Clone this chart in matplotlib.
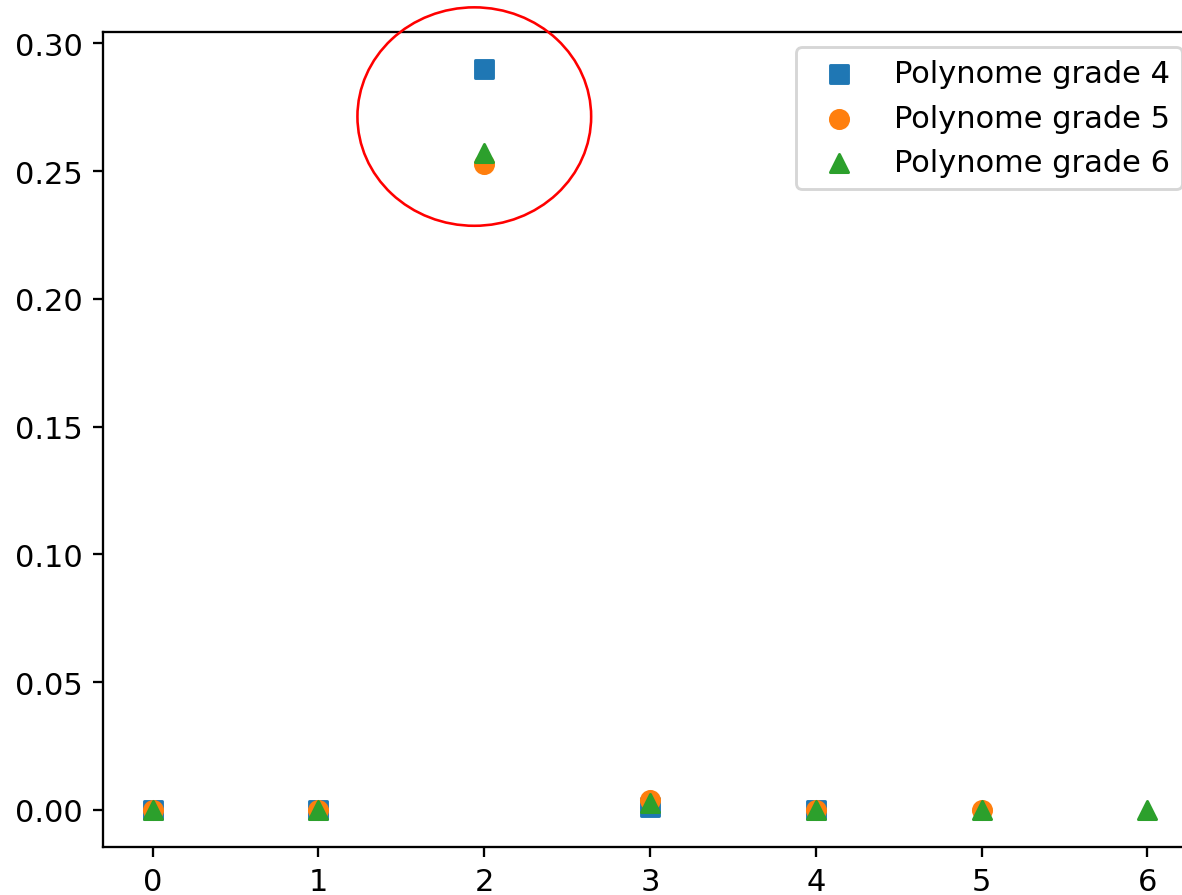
import numpy as np
import matplotlib.pyplot as plt
from matplotlib.patches import Ellipse

# coefficients of the fitted polynomials (index = power)
x4 = np.arange(5)
coef4 = [0.0, 0.0, 0.290, 0.001, 0.0]
x5 = np.arange(6)
coef5 = [0.0, 0.0, 0.253, 0.0038, 0.0, 0.0]
x6 = np.arange(7)
coef6 = [0.0, 0.0, 0.257, 0.0026, 0.0, 0.0, 0.0]

labels = ['Polynome grade 4', 'Polynome grade 5', 'Polynome grade 6']

plt.rcParams['font.size'] = 10.6

dpi = 207
fig = plt.figure(figsize=(1182 / dpi, 896 / dpi), dpi=dpi)
ax = fig.add_axes([103 / 1182, 1 - 848 / 896, 1094 / 1182, 815 / 896])

ax.scatter(x4, coef4, marker='s', s=40, label=labels[0])
ax.scatter(x5, coef5, marker='o', s=40, label=labels[1])
ax.scatter(x6, coef6, marker='^', s=40, label=labels[2])
ax.legend(loc='upper right')

# keep the limits from the data only
xlim, ylim = ax.get_xlim(), ax.get_ylim()

# highlight the dominant x^2 term
ax.add_patch(Ellipse((1.94, 0.2714), 1.41, 0.0855, fill=False, edgecolor='red',
                     linewidth=0.9, clip_on=False, zorder=10))
ax.set_xlim(xlim)
ax.set_ylim(ylim)

fig.savefig('out.png', dpi=dpi)
